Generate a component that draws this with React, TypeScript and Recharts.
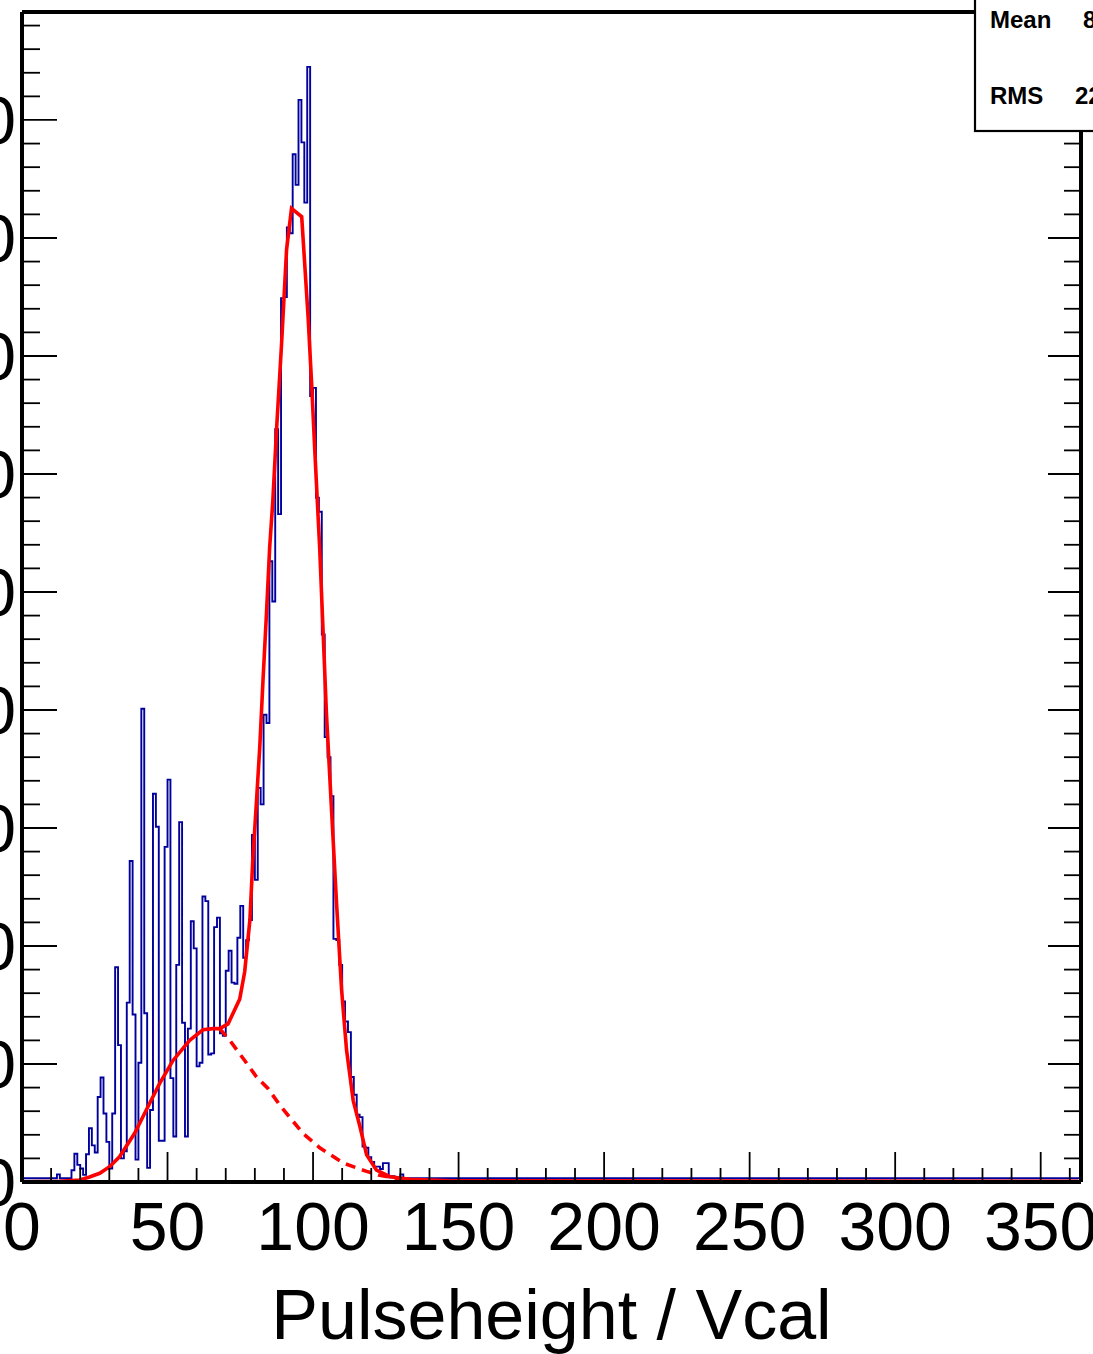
import { ComposedChart, Line, XAxis, YAxis } from "recharts";

// pulse height spectrum, 1 Vcal per bin, bins 0..130 (everything above is flat)
const phCounts = [
  0.32, 0.32, 0.32, 0.32, 0.32, 0.32, 0.32, 0.32, 0.32, 0.32,
  0.32, 0.32, 0.65, 0.32, 0.32, 0.32, 0.32, 1.0, 2.4, 1.45,
  1.15, 0.6, 2.35, 4.55, 3.1, 2.5, 7.2, 8.85, 5.8, 3.4,
  1.15, 5.8, 18.2, 11.6, 2.0, 2.6, 15.2, 27.2, 14.2, 1.9,
  10.1, 40.1, 14.3, 1.2, 6.1, 32.9, 30.1, 3.5, 3.5, 28.4,
  34.1, 8.8, 3.85, 18.4, 30.5, 13.5, 3.85, 13.0, 22.1, 19.8,
  9.8, 10.1, 24.2, 23.8, 10.8, 10.9, 21.6, 22.4, 12.6, 12.4,
  17.9, 19.6, 16.9, 16.8, 20.7, 23.4, 19.0, 20.5, 22.2, 29.4,
  25.6, 33.4, 32.0, 39.6, 38.9, 52.6, 49.2, 63.8, 56.6, 74.9,
  75.0, 80.9, 80.4, 87.1, 84.5, 91.7, 88.1, 83.0, 94.5, 66.6,
  67.3, 58.0, 56.8, 46.4, 37.7, 36.0, 32.7, 20.6, 20.5, 18.4,
  15.3, 13.6, 12.7, 8.9, 7.4, 5.7, 5.5, 3.0, 2.9, 2.1,
  1.7, 1.3, 1.3, 1.1, 1.6, 1.6, 0.4, 0.5, 0.35, 0.35,
  0.65,
];
const tailLevel = 0.32;
const xMax = 363.85;
const yMax = 99.15;

// full fit (solid)
const fitU = [
  0, 12.9, 19.8, 23.2, 26.7, 30.1, 33.5, 38.7, 42.7, 47.3, 51.9, 57.6, 62.2,
  65.6, 67.9, 70.8, 74.8, 76.5, 78.3, 79.3, 80.6, 81.7, 82.8, 84.0, 85.1, 86.2,
  87.4, 89.2, 90.9, 92.6, 96.1, 98.3, 99.5, 100.6, 102.3, 104.6, 106.4, 108.1,
  109.8, 111.5, 113.8, 116.1, 118.4, 121.8, 126.4, 133.3, 147, 362.8,
];
const fitV = [
  0.02, 0.05, 0.17, 0.42, 0.74, 1.3, 2.14, 4.13, 6.1, 8.36, 10.3, 12.0, 12.9,
  13.0, 13.0, 13.4, 15.5, 17.8, 22.2, 27.3, 32.4, 36.9, 42.5, 48.2, 53.8, 57.8,
  63.5, 71.1, 79.0, 82.5, 81.8, 73.3, 67.7, 62.0, 53.6, 39.7, 31.3, 23.5,
  16.3, 11.2, 6.9, 4.7, 2.3, 1.0, 0.45, 0.23, 0.1, 0.05,
];

// low component (dashed)
const bgU = [67.9, 71.4, 76.5, 80.6, 84.6, 88.6, 96.6, 102.3, 110.4, 118.4, 122.4, 130, 140];
const bgV = [13.0, 12.0, 10.3, 8.9, 7.9, 6.5, 4.1, 2.9, 1.6, 0.9, 0.6, 0.25, 0.1];

const xTicks = [
  0, 10, 20, 30, 40, 50, 60, 70, 80, 90, 100, 110, 120, 130, 140, 150, 160, 170,
  180, 190, 200, 210, 220, 230, 240, 250, 260, 270, 280, 290, 300, 310, 320, 330,
  340, 350, 360,
];
const yTicks = [
  0, 2, 4, 6, 8, 10, 12, 14, 16, 18, 20, 22, 24, 26, 28, 30, 32, 34, 36, 38, 40,
  42, 44, 46, 48, 50, 52, 54, 56, 58, 60, 62, 64, 66, 68, 70, 72, 74, 76, 78, 80,
  82, 84, 86, 88, 90, 92, 94, 96, 98,
];

const statLabels = ["Mean", "RMS"];
const statValues = ["85.31", "22.47"];

const histData = phCounts.map((v, i) => ({ u: i, v }));
histData.push({ u: phCounts.length, v: tailLevel }, { u: xMax, v: tailLevel });
const fitData = fitU.map((u, i) => ({ u, v: fitV[i] }));
const bgData = bgU.map((u, i) => ({ u, v: bgV[i] }));

const FONT = "'Liberation Sans', Arial, Helvetica, sans-serif";
const axisLine = { stroke: "#000", strokeWidth: 4 };

const BottomTick = ({ x, y, payload }: any) => {
  const major = payload.value % 50 === 0;
  return (
    <g>
      <line x1={x} x2={x} y1={y} y2={y - (major ? 30 : 14)} stroke="#000" strokeWidth={1.8} />
      {major && (
        <text x={x} y={y + 68} textAnchor="middle" fontSize={68} fontFamily={FONT} fill="#000">
          {payload.value}
        </text>
      )}
    </g>
  );
};

const TopTick = ({ x, y, payload }: any) => {
  const major = payload.value % 50 === 0;
  return <line x1={x} x2={x} y1={y} y2={y + (major ? 31 : 14)} stroke="#000" strokeWidth={1.8} />;
};

const LeftTick = ({ x, y, payload }: any) => {
  const major = payload.value % 10 === 0;
  return (
    <g>
      <line x1={x} x2={x + (major ? 35 : 18)} y1={y} y2={y} stroke="#000" strokeWidth={1.8} />
      {major && (
        <text x={x - 6} y={y + 24} textAnchor="end" fontSize={68} fontFamily={FONT} fill="#000">
          {payload.value}
        </text>
      )}
    </g>
  );
};

const RightTick = ({ x, y, payload }: any) => {
  const major = payload.value % 10 === 0;
  return <line x1={x} x2={x - (major ? 33 : 17)} y1={y} y2={y} stroke="#000" strokeWidth={1.8} />;
};

export default function App() {
  return (
    <div style={{ position: "fixed", left: 0, top: 0, width: 1093, height: 1354, overflow: "hidden", background: "#fff" }}>
      <ComposedChart width={1093} height={1354} margin={{ top: 0, right: 0, bottom: 0, left: 0 }}>
        <XAxis
          xAxisId="b"
          dataKey="u"
          type="number"
          orientation="bottom"
          domain={[0, xMax]}
          allowDataOverflow
          ticks={xTicks}
          interval={0}
          height={172}
          tickSize={0}
          tickMargin={0}
          tickLine={false}
          axisLine={axisLine}
          tick={BottomTick}
          label={{
            value: "Pulseheight / Vcal",
            position: "insideBottom",
            offset: 15,
            style: { fontSize: 70, fontFamily: FONT, fill: "#000" },
          }}
        />
        <XAxis
          xAxisId="t"
          type="number"
          orientation="top"
          domain={[0, xMax]}
          allowDataOverflow
          ticks={xTicks}
          interval={0}
          height={12}
          tickSize={0}
          tickMargin={0}
          tickLine={false}
          axisLine={axisLine}
          tick={TopTick}
        />
        <YAxis
          yAxisId="l"
          type="number"
          orientation="left"
          domain={[0, yMax]}
          allowDataOverflow
          ticks={yTicks}
          interval={0}
          width={22}
          tickSize={0}
          tickMargin={0}
          tickLine={false}
          axisLine={axisLine}
          tick={LeftTick}
        />
        <YAxis
          yAxisId="r"
          type="number"
          orientation="right"
          domain={[0, yMax]}
          allowDataOverflow
          ticks={yTicks}
          interval={0}
          width={12}
          tickSize={0}
          tickMargin={0}
          tickLine={false}
          axisLine={axisLine}
          tick={RightTick}
        />
        <Line
          xAxisId="b"
          yAxisId="l"
          data={histData}
          dataKey="v"
          type="stepAfter"
          stroke="#00009c"
          strokeWidth={1.9}
          dot={false}
          activeDot={false}
          isAnimationActive={false}
        />
        <Line
          xAxisId="b"
          yAxisId="l"
          data={bgData}
          dataKey="v"
          type="linear"
          stroke="#ff0000"
          strokeWidth={3.6}
          strokeDasharray="10 7"
          dot={false}
          activeDot={false}
          isAnimationActive={false}
        />
        <Line
          xAxisId="b"
          yAxisId="l"
          data={fitData}
          dataKey="v"
          type="linear"
          stroke="#ff0000"
          strokeWidth={3.6}
          dot={false}
          activeDot={false}
          isAnimationActive={false}
        />
      </ComposedChart>
      <svg width={1093} height={140} style={{ position: "absolute", left: 0, top: 0 }}>
        <rect x={975} y={-4} width={200} height={135} fill="#fff" stroke="#000" strokeWidth={2.2} />
        {statLabels.map((s, i) => (
          <g key={s}>
            <text x={990} y={28 + i * 76} fontSize={24} fontWeight="bold" fontFamily={FONT} fill="#000">
              {s}
            </text>
            <text x={i === 0 ? 1083 : 1075} y={28 + i * 76} fontSize={24} fontWeight="bold" fontFamily={FONT} fill="#000">
              {statValues[i]}
            </text>
          </g>
        ))}
      </svg>
    </div>
  );
}
